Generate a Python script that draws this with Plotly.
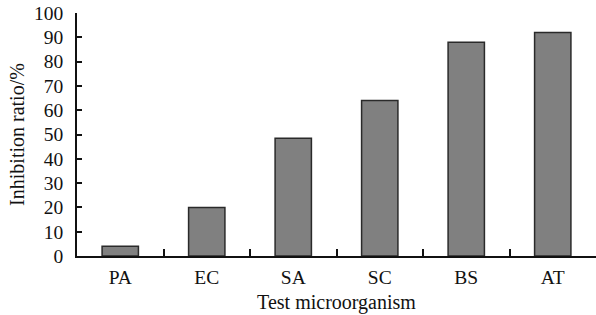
import plotly.graph_objects as go

categories = ["PA", "EC", "SA", "SC", "BS", "AT"]
inhibition = [4, 20, 48.5, 64, 88, 92]
y_ticks = list(range(0, 101, 10))

family = "Liberation Serif, Times New Roman, serif"
tick_font = dict(family=family, size=19.5, color="#111")
title_font = dict(family=family, size=20, color="#111")

fig = go.Figure(go.Bar(
    x=categories, y=inhibition, width=0.42,
    marker=dict(color="#808080", line=dict(color="#2a2a2a", width=1.5)),
))
fig.update_layout(
    width=596, height=315, margin=dict(l=77, r=0, t=13, b=59, autoexpand=False),
    paper_bgcolor="white", plot_bgcolor="white", font=tick_font, showlegend=False,
)
fig.update_xaxes(
    showline=True, linecolor="#111", linewidth=1.5, ticks="inside", ticklen=7,
    tickcolor="#111", tickwidth=1.5, tickson="boundaries", showgrid=False,
    title=dict(text="Test microorganism", standoff=8, font=title_font), tickfont=tick_font,
    ticklabelstandoff=3, automargin=False,
)
fig.update_yaxes(
    range=[0, 100], tickvals=y_ticks, showline=True, linecolor="#111", linewidth=1.5,
    ticks="inside", ticklen=5, tickcolor="#111", tickwidth=1.5, showgrid=False,
    zeroline=False, title=dict(text="Inhibition ratio/%", standoff=4, font=title_font),
    tickfont=tick_font, ticklabelstandoff=8, automargin=False,
)
fig.write_html(
    "out.html",
    config={"displayModeBar": False},
    post_script="document.body.style.margin='0';document.body.style.overflow='hidden';",
)
